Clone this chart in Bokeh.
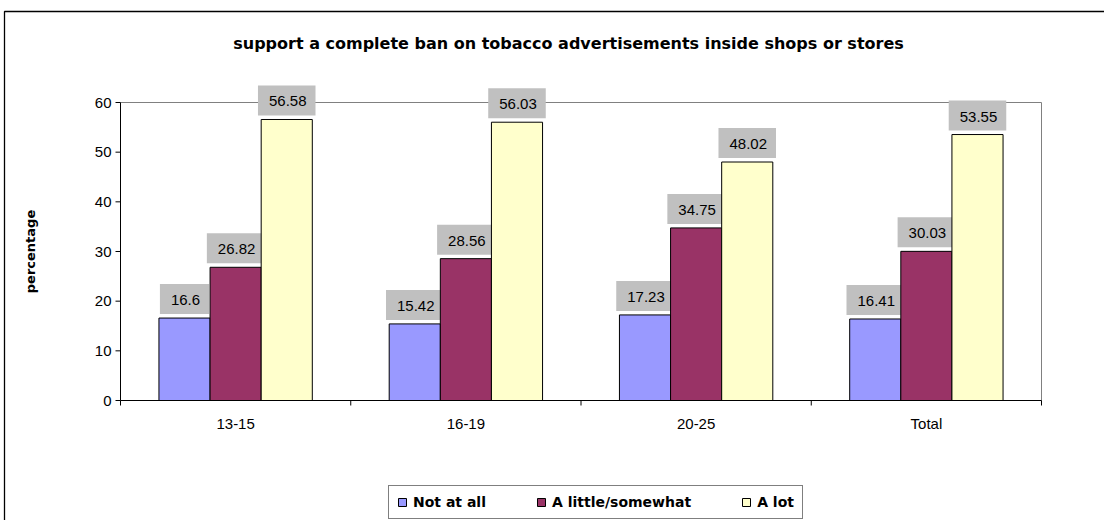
import math
from bokeh.plotting import figure
from bokeh.models import ColumnDataSource, Legend, LegendItem, Range1d
from bokeh.core.properties import value
from bokeh.embed import file_html
from bokeh.resources import INLINE

categories = ["13-15", "16-19", "20-25", "Total"]
series_names = ["Not at all", "A little/somewhat", "A lot"]
not_at_all = [16.6, 15.42, 17.23, 16.41]
a_little = [26.82, 28.56, 34.75, 30.03]
a_lot = [56.58, 56.03, 48.02, 53.55]
colors = ["#9999FF", "#993366", "#FFFFCC"]
y_ticks = [0, 10, 20, 30, 40, 50, 60]
y_max = 60
title_text = "support a complete ban on tobacco advertisements inside shops or stores"
y_title = "percentage"

FONT = "Liberation Sans"
BOLD_FONT = "DejaVu Sans"
W, H = 1104, 520
# plot area in pixels (from top-left of the page)
PL, PR, PT, PB = 120, 1041, 102, 400

n = len(categories)
kx = (PR - PL) / n          # px per x unit
ky = (PB - PT) / y_max      # px per y unit
dx, dy = 1 / kx, 1 / ky
x_start, x_end = -PL * dx, n + (W - PR) * dx
y_start, y_end = -(H - PB) * dy, y_max + PT * dy


def px_x(px):
    return x_start + px * dx


def px_y(py):
    return y_end - py * dy


p = figure(width=W, height=H, output_backend="svg", toolbar_location=None,
           x_range=Range1d(x_start, x_end), y_range=Range1d(y_start, y_end),
           x_axis_location=None, y_axis_location=None,
           min_border=0, background_fill_color="white", border_fill_color="white")
p.outline_line_color = None
p.grid.visible = False

# outer chart border (extends past right and bottom edges)
p.quad(left=[px_x(4)], right=[px_x(W + 20)], top=[px_y(11)], bottom=[px_y(H + 20)],
       fill_color=None, line_color="black", line_width=1.3)

# plot area border (grey top/right)
p.segment(x0=[0, n], y0=[y_max, y_max], x1=[n, n], y1=[y_max, 0],
          line_color="#808080", line_width=1)

# bars and value labels
bw = 0.222
offsets = [-bw, 0.0, bw]
series = [not_at_all, a_little, a_lot]
renderers = []
for s, vals, off, col in zip(series_names, series, offsets, colors):
    xs = [i + 0.5 + off for i in range(n)]
    src = ColumnDataSource(dict(x=xs, top=vals, lab=[f"{v:g}" for v in vals]))
    r = p.vbar(x="x", top="top", width=bw, bottom=0, source=src, fill_color=col,
               line_color="black", line_width=1)
    renderers.append(r)
    p.text(x="x", y="top", text="lab", source=src, text_align="center",
           text_baseline="bottom", y_offset=-4, text_font=value(FONT),
           text_font_size="15px", text_color="#000000",
           background_fill_color="#C0C0C0", padding=[11, 9, 11, 9])

# axis lines
p.segment(x0=[0, 0], y0=[0, 0], x1=[n, 0], y1=[0, y_max], line_color="black", line_width=1)
# y ticks and labels
p.segment(x0=[-5 * dx] * len(y_ticks), y0=y_ticks, x1=[0] * len(y_ticks), y1=y_ticks,
          line_color="black", line_width=1)
p.text(x=[0] * len(y_ticks), y=y_ticks, text=[str(t) for t in y_ticks], x_offset=-9,
       text_align="right", text_baseline="middle", text_font=value(FONT),
       text_font_size="15px", text_color="#000000")
# x ticks at category boundaries, labels at centres
bounds = list(range(n + 1))
p.segment(x0=bounds, y0=[0] * len(bounds), x1=bounds, y1=[-5 * dy] * len(bounds),
          line_color="black", line_width=1)
p.text(x=[i + 0.5 for i in range(n)], y=[0] * n, text=categories, y_offset=23,
       text_align="center", text_baseline="middle", text_font=value(FONT),
       text_font_size="15px", text_color="#000000")

# y-axis title
p.text(x=[px_x(30)], y=[y_max / 2], text=[y_title], angle=math.pi / 2,
       text_align="center", text_baseline="middle", text_font=value(BOLD_FONT),
       text_font_size="13px", text_font_style="bold", text_color="#000000")
# chart title
p.text(x=[px_x(568)], y=[px_y(43)], text=[title_text], text_align="center",
       text_baseline="middle", text_font=value(BOLD_FONT), text_font_size="16px",
       text_font_style="bold", text_color="#000000")

legend = Legend(items=[LegendItem(label=nm, renderers=[r]) for nm, r in zip(series_names, renderers)],
                orientation="horizontal", location=(388, 1),
                label_text_font=BOLD_FONT, label_text_font_size="14px",
                label_text_font_style="bold", label_text_color="#000000",
                glyph_width=10, glyph_height=10, spacing=50, padding=8,
                label_standoff=6, label_height=16, border_line_color="black",
                border_line_width=1, background_fill_color="white",
                background_fill_alpha=1, margin=0)
p.add_layout(legend, "center")

open("out.html", "w").write(file_html(p, INLINE))
